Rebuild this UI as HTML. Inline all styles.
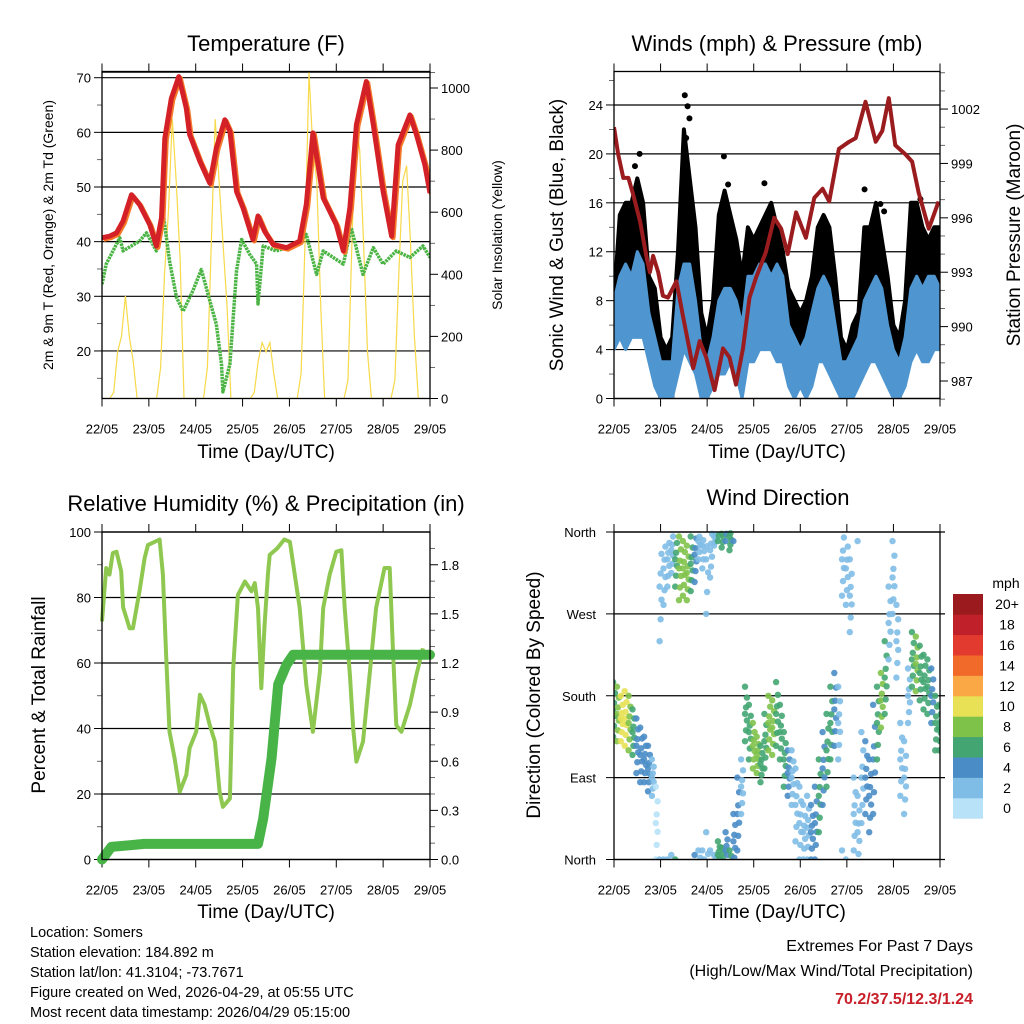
<!DOCTYPE html>
<html><head><meta charset="utf-8"><title>Weather station</title>
<style>
html,body{margin:0;padding:0;background:#fff;}
svg{display:block;font-family:"Liberation Sans",Arial,sans-serif;}
</style></head>
<body>
<svg id="chart" width="1024" height="1024" viewBox="0 0 1024 1024" xmlns="http://www.w3.org/2000/svg">
<rect x="0" y="0" width="1024" height="1024" fill="#fff"/>
<text x="266" y="51" font-size="22" text-anchor="middle">Temperature (F)</text>
<text x="777" y="51" font-size="22" text-anchor="middle">Winds (mph) &amp; Pressure (mb)</text>
<text x="266" y="511" font-size="22" text-anchor="middle">Relative Humidity (%) &amp; Precipitation (in)</text>
<text x="778" y="505" font-size="22" text-anchor="middle">Wind Direction</text>
<text x="266" y="458" font-size="19" text-anchor="middle">Time (Day/UTC)</text>
<text x="777" y="458" font-size="19" text-anchor="middle">Time (Day/UTC)</text>
<text x="266" y="918" font-size="19" text-anchor="middle">Time (Day/UTC)</text>
<text x="777" y="918" font-size="19" text-anchor="middle">Time (Day/UTC)</text>
<text transform="translate(53,235) rotate(-90)" font-size="14" text-anchor="middle">2m &amp; 9m T (Red, Orange) &amp; 2m Td (Green)</text>
<text transform="translate(502,235) rotate(-90)" font-size="14" text-anchor="middle">Solar Insolation (Yellow)</text>
<text transform="translate(563,235) rotate(-90)" font-size="19" text-anchor="middle">Sonic Wind &amp; Gust (Blue, Black)</text>
<text transform="translate(1020,235) rotate(-90)" font-size="19" text-anchor="middle">Station Pressure (Maroon)</text>
<text transform="translate(45,695) rotate(-90)" font-size="19" text-anchor="middle">Percent &amp; Total Rainfall</text>
<text transform="translate(540,695) rotate(-90)" font-size="19" text-anchor="middle">Direction (Colored By Speed)</text>
<g font-size="14.5">
<text x="30" y="937">Location: Somers</text>
<text x="30" y="957">Station elevation: 184.892 m</text>
<text x="30" y="977">Station lat/lon: 41.3104; -73.7671</text>
<text x="30" y="997">Figure created on Wed, 2026-04-29, at 05:55 UTC</text>
<text x="30" y="1017">Most recent data timestamp: 2026/04/29 05:15:00</text>
</g>
<g text-anchor="end">
<text x="973" y="951" font-size="16">Extremes For Past 7 Days</text>
<text x="973" y="976" font-size="16">(High/Low/Max Wind/Total Precipitation)</text>
<text x="973" y="1004" font-size="16" font-weight="bold" fill="#c8202a">70.2/37.5/12.3/1.24</text>
</g>
<g id="layer"></g>
</svg>
<script>
// ---------- data ----------
const dayLabels = ["22/05","23/05","24/05","25/05","26/05","27/05","28/05","29/05"];
const tempDays = [0,0.16,0.31,0.45,0.63,0.80,1.02,1.16,1.27,1.34,1.48,1.64,1.80,1.87,2.09,2.30,2.44,2.62,2.73,2.87,3.01,3.22,3.33,3.47,3.65,3.94,4.22,4.36,4.50,4.72,5.00,5.15,5.29,5.43,5.64,5.79,6.00,6.18,6.32,6.57,6.71,6.89,7.0];
const tempRed = [40.7,41.0,41.6,43.8,48.6,46.8,43.1,39.2,44.4,58.9,66.2,70.2,64.4,59.6,54.7,50.7,57.1,62.3,60.2,49.2,46.2,40.4,44.7,41.9,39.5,38.9,40.1,46.8,59.9,48.0,43.1,38.3,46.2,61.4,69.3,61.4,49.2,41.0,57.7,63.2,59.6,54.1,48.9];
const dewDays = [0,0.09,0.38,0.45,0.80,0.95,1.16,1.30,1.44,1.59,1.73,1.94,2.12,2.30,2.44,2.55,2.58,2.73,2.87,2.98,3.15,3.30,3.33,3.44,3.72,4.15,4.36,4.58,4.72,5.15,5.32,5.57,5.79,6.00,6.28,6.57,6.85,7.0];
const dewPoint = [32.2,35.9,40.7,38.3,40.1,41.6,38.3,45.6,36.5,29.8,27.3,31.0,34.9,29.2,24.9,17.6,12.5,17.6,34.6,40.4,37.7,35.9,28.6,39.2,38.3,39.5,41.3,34.0,38.3,35.9,42.5,34.0,38.9,35.9,38.3,37.1,39.2,37.1];
// solar, 2-hourly (hours 0,2,...,22) for each day
const solar = [
 0,0,0,20,150,200,330,200,120,0,0,0,
 0,0,0,100,400,600,900,700,450,0,0,0,
 0,0,0,100,500,900,700,500,300,0,0,0,
 0,0,0,20,120,180,150,180,80,0,0,0,
 0,0,0,80,500,1050,800,700,300,0,0,0,
 0,0,0,60,500,900,800,500,150,0,0,0,
 0,0,0,60,400,700,750,500,200,0,0,0];
const presDays = [0,0.09,0.20,0.31,0.41,0.56,0.70,0.77,0.84,0.95,1.05,1.16,1.34,1.48,1.70,1.84,1.98,2.16,2.34,2.48,2.62,2.77,2.91,3.05,3.26,3.44,3.59,3.73,3.91,4.12,4.30,4.48,4.62,4.83,5.05,5.19,5.40,5.62,5.76,5.90,6.04,6.26,6.40,6.54,6.76,6.97];
const pressure = [1001.0,999.5,998.2,998.2,997.3,995.8,993.8,993.0,993.9,993.0,991.7,991.6,992.5,990.6,987.7,989.2,988.3,986.5,988.8,988.3,986.8,988.8,991.6,992.7,994.1,996.0,995.4,994.0,996.3,994.9,997.1,997.6,996.9,999.8,1000.2,1000.4,1002.4,1000.2,1000.8,1002.6,1000.0,999.5,999.1,997.4,995.4,996.9];
// wind, 3-hourly
const windLow  = [4,5,4,5,5,5,3,1,0,0,0,2,4,3,2,0,0,1,2,2,3,2,0,3,3,4,4,4,3,3,1,0,1,0,1,3,3,2,1,0,0,0,1,2,3,3,2,1,0,0,1,3,4,3,3,4,4];
const windHigh = [8,10,11,10,12,11,7,5,3,3,3,9,11,11,8,4,3,5,8,9,9,8,6,10,10,11,11,10,11,10,6,5,4,5,7,9,10,9,6,3,3,4,5,8,9,10,9,6,4,3,5,9,10,9,10,10,9];
const gustHigh = [8,15,16,16,18,16,10,9,5,4,5,12,22,18,14,7,5,8,15,17,15,13,10,14,13,14,15,16,14,12,9,8,7,8,10,14,15,14,10,5,4,6,7,14,14,16,13,10,6,5,8,16,16,14,13,14,14];
const gustOutDays = [0.45,0.55,1.52,1.58,1.62,1.55,2.36,2.45,3.23,5.38,5.72,5.80,6.58,6.50];
const gustOutVals = [19,20,24.8,23.9,22.9,21.3,19.8,17.5,17.6,17.1,15.9,15.3,16.3,15.0];
// wind direction, 2-hourly
const dirVals = [165,160,155,155,150,140,125,115,110,100,90,40,300,320,330,340,330,320,320,315,325,335,350,345,330,340,355,5,358,10,355,20,50,80,160,140,125,115,105,130,150,145,160,140,110,95,90,60,40,30,35,30,40,70,100,120,150,165,150,330,320,290,50,30,90,90,70,110,150,175,200,260,310,240,110,90,180,220,215,205,195,190,180,150,145];
const dirSpread = [30,30,25,30,30,25,30,30,25,25,20,40,60,40,30,25,30,35,30,30,30,30,20,25,60,30,10,15,15,20,15,30,40,30,30,30,25,20,20,30,30,30,35,30,30,25,30,40,40,30,35,30,40,40,40,40,40,40,40,40,40,40,40,40,50,40,40,60,40,30,40,40,40,40,40,40,30,30,30,30,30,30,30,30,25];
const dirSpeed = [7,9,10,10,9,7,5,5,5,4,3,1,2,2,3,3,6,8,9,9,6,4,3,2,2,2,3,6,7,5,6,5,4,3,7,7,8,8,6,7,9,8,7,7,6,5,3,2,2,3,3,4,4,6,5,6,7,5,3,2,2,2,2,2,3,4,5,5,6,8,7,3,2,2,2,2,3,7,8,7,7,6,5,7,7];
// RH & rain
const rhDays = [0,0.09,0.16,0.23,0.31,0.41,0.45,0.59,0.66,0.80,0.91,0.98,1.23,1.30,1.37,1.44,1.55,1.66,1.80,1.87,2.01,2.09,2.19,2.30,2.41,2.51,2.58,2.73,2.80,2.90,3.05,3.19,3.26,3.33,3.40,3.47,3.54,3.58,3.74,3.89,4.01,4.22,4.36,4.50,4.65,4.72,4.86,5.00,5.11,5.18,5.29,5.36,5.43,5.57,5.71,5.85,6.03,6.14,6.21,6.28,6.39,6.57,6.71,6.85,6.96];
const rhVals = [72.7,89,87,93.6,94,88,77,70.6,70.6,81.9,92,96,97.7,87,61.9,39,30.9,20.7,25.8,34,39,50.3,47.2,41,36,20.7,16.1,18.6,58.4,80.8,84.9,81.9,84.4,76.8,52.3,71.7,87,93,95,97.7,97,76.8,53.3,39,57.4,76.8,87,94,94.4,76.8,56.4,40,29.9,36,56.4,76.8,89,89,63.5,41,39,47.2,56.4,64.5];
const rainDays = [0,0.2,0.9,3.33,3.44,3.62,3.76,3.94,4.08,7.0];
const rainVals = [0,0.077,0.095,0.095,0.25,0.62,1.07,1.19,1.25,1.25];
const speedColors = ["#b8e2f7","#7fbce6","#4a8dc6","#43a672","#7fc24a","#e8e155","#f9a845","#f26a2a","#e23a2e","#c0202a","#9b1a1d"];
const speedLabels = ["0","2","4","6","8","10","12","14","16","18","20+"];
const dirLabels = ["North","East","South","West","North"];

// ---------- helpers ----------
const NS="http://www.w3.org/2000/svg";
const layer=document.getElementById('layer');
function mk(tag,attrs,parent){const e=document.createElementNS(NS,tag);for(const k in attrs)e.setAttribute(k,attrs[k]);(parent||layer).appendChild(e);return e;}
function grp(name){const g=mk('g',{});return g;}
function txt(g,x,y,s,anchor,size){const t=mk('text',{x:x,y:y,'font-size':size||13,'text-anchor':anchor||'middle'},g);t.textContent=s;return t;}
function lin(g,x1,y1,x2,y2,w,c){return mk('line',{x1:x1,y1:y1,x2:x2,y2:y2,stroke:c||'#000','stroke-width':w||1},g);}
function pathD(xs,ys,fx,fy){let d='';for(let i=0;i<xs.length;i++){d+=(i?'L':'M')+fx(xs[i]).toFixed(1)+','+fy(ys[i]).toFixed(1);}return d;}

const P1={x0:102,x1:430,y0:71.5,y1:398.5};
const P2={x0:614,x1:940,y0:71.5,y1:398.5};
const P3={x0:102,x1:430,y0:532,y1:859.5};
const P4={x0:614,x1:940,y0:532,y1:859.5};
function xs(P){return d=>P.x0+(P.x1-P.x0)*d/7;}
const x1s=xs(P1),x2s=xs(P2),x3s=xs(P3),x4s=xs(P4);
const yTemp=f=>77.7+(70-f)*5.465;
const ySolar=s=>398.5-s*0.3105;
const yMph=m=>398.5-m*12.23;
const yPres=p=>381-(p-987)*18.13;
const yRH=r=>859.5-r*3.275;
const yRain=v=>859.5-v*163.75;
const yDir=d=>859.5-d*(327.5/360);

function xAxis(P,fx,name){
  const g=grp(name);
  dayLabels.forEach((l,i)=>{const x=fx(i);lin(g,x,P.y1,x,P.y1+8);lin(g,x,P.y0,x,P.y0-8);txt(g,x,P.y1+35,l,'middle',13);});
}
function yAxis(P,vals,fy,labels,side,minor,name,grid){
  const g=grp(name);
  vals.forEach((v,i)=>{const y=fy(v);
    if(side==='left'){lin(g,P.x0-8,y,P.x0,y);txt(g,P.x0-11,y+5,labels[i],'end',13);}
    else{lin(g,P.x1,y,P.x1+8,y);txt(g,P.x1+11,y+5,labels[i],'start',13);}
    if(grid)lin(g,P.x0,y,P.x1,y,1.2,'#000');
  });
  minor.forEach(v=>{const y=fy(v);if(side==='left')lin(g,P.x0-5,y,P.x0,y,0.8,'#444');else lin(g,P.x1,y,P.x1+5,y,0.8,'#444');});
}
function border(P,name){const r=mk('rect',{x:P.x0,y:P.y0,width:P.x1-P.x0,height:P.y1-P.y0,fill:'none',stroke:'#000','stroke-width':1.3});}
['c1','c2','c3','c4'].forEach((id,i)=>{const P=[P1,P2,P3,P4][i];const c=document.createElementNS(NS,'clipPath');c.setAttribute('id',id);const r=document.createElementNS(NS,'rect');r.setAttribute('x',P.x0);r.setAttribute('y',P.y0-3);r.setAttribute('width',P.x1-P.x0);r.setAttribute('height',P.y1-P.y0+3);c.appendChild(r);layer.appendChild(c);});

// ---------- Panel 1: temperature ----------
yAxis(P1,[20,30,40,50,60,70],yTemp,["20","30","40","50","60","70"],'left',[15,25,35,45,55,65],'temp-y-axis',true);
lin(layer,P1.x0,yTemp(71),P1.x1,yTemp(71),1,'#000');
yAxis(P1,[0,200,400,600,800,1000],ySolar,["0","200","400","600","800","1000"],'right',[100,300,500,700,900,1050],'solar-y-axis',false);
xAxis(P1,x1s,'temp-x-axis');
{
 const g=grp('temperature-series');g.setAttribute('clip-path','url(#c1)');
 const sx=[],sy=[];solar.forEach((v,i)=>{sx.push(i/12);sy.push(v);});
 const s=mk('path',{d:pathD(sx,sy,x1s,ySolar),fill:'none',stroke:'#f7d94a','stroke-width':1.2},g);
 
 const dw=mk('path',{d:pathD(dewDays,dewPoint,x1s,yTemp),fill:'none',stroke:'#4bb445','stroke-width':3.5,'stroke-dasharray':'2.5 0.8','stroke-linejoin':'round'},g);
 
 const o=mk('path',{d:pathD(tempDays,tempRed,x1s,yTemp),fill:'none',stroke:'#f47a2a','stroke-width':5,'stroke-linejoin':'round',transform:'translate(1.5,1.5)'},g);
 
 const r=mk('path',{d:pathD(tempDays,tempRed,x1s,yTemp),fill:'none',stroke:'#d42027','stroke-width':5,'stroke-linejoin':'round'},g);
 
}
border(P1,'temp-plot-frame');

// ---------- Panel 2: wind ----------
yAxis(P2,[0,4,8,12,16,20,24],yMph,["0","4","8","12","16","20","24"],'left',[2,6,10,14,18,22,26],'wind-y-axis',true);
yAxis(P2,[987,990,993,996,999,1002],yPres,["987","990","993","996","999","1002"],'right',[986,988,989,991,992,994,995,997,998,1000,1001,1003,1004],'pressure-y-axis',false);
xAxis(P2,x2s,'wind-x-axis');
{
 const g=grp('wind-series');g.setAttribute('clip-path','url(#c2)');
 const wd=windLow.map((v,i)=>i/8);
 let d='';wd.forEach((t,i)=>{d+=(i?'L':'M')+x2s(t).toFixed(1)+','+yMph(gustHigh[i]).toFixed(1);});
 for(let i=wd.length-1;i>=0;i--)d+='L'+x2s(wd[i]).toFixed(1)+','+yMph(Math.max(windLow[i],windHigh[i]-3)).toFixed(1);
 const gp=mk('path',{d:d+'Z',fill:'#000',stroke:'#000','stroke-width':4,'stroke-linejoin':'round'},g);
 
 gustOutDays.forEach((t,i)=>{const c=mk('circle',{cx:x2s(t),cy:yMph(gustOutVals[i]),r:3,fill:'#000'},g);
   });
 let b='';wd.forEach((t,i)=>{b+=(i?'L':'M')+x2s(t).toFixed(1)+','+yMph(windHigh[i]).toFixed(1);});
 for(let i=wd.length-1;i>=0;i--)b+='L'+x2s(wd[i]).toFixed(1)+','+yMph(windLow[i]).toFixed(1);
 const bp=mk('path',{d:b+'Z',fill:'#4f96d0',stroke:'#4f96d0','stroke-width':3,'stroke-linejoin':'round'},g);
 
 const p=mk('path',{d:pathD(presDays,pressure,x2s,yPres),fill:'none',stroke:'#9b1c1f','stroke-width':4,'stroke-linejoin':'round'},g);
 
}
border(P2,'wind-plot-frame');

// ---------- Panel 3: RH ----------
yAxis(P3,[0,20,40,60,80,100],yRH,["0","20","40","60","80","100"],'left',[10,30,50,70,90],'rh-y-axis',true);
yAxis(P3,[0,0.3,0.6,0.9,1.2,1.5,1.8],yRain,["0.0","0.3","0.6","0.9","1.2","1.5","1.8"],'right',[0.1,0.2,0.4,0.5,0.7,0.8,1.0,1.1,1.3,1.4,1.6,1.7,1.9],'rain-y-axis',false);
xAxis(P3,x3s,'rh-x-axis');
{
 const g=grp('rh-series');
 const r=mk('path',{d:pathD(rhDays,rhVals,x3s,yRH),fill:'none',stroke:'#8fc850','stroke-width':4,'stroke-linejoin':'round'},g);
 
 const p=mk('path',{d:pathD(rainDays,rainVals,x3s,yRain),fill:'none',stroke:'#48b448','stroke-width':10,'stroke-linejoin':'round','stroke-linecap':'round'},g);
 
}
border(P3,'rh-plot-frame');

// ---------- Panel 4: direction ----------
{
 const g=grp('dir-y-axis');
 [0,90,180,270,360].forEach((v,i)=>{const y=yDir(v);lin(g,P4.x0-8,y,P4.x0,y);lin(g,P4.x0,y,P4.x1+5,y,1.2);txt(g,P4.x0-18,y+5,dirLabels[i],'end',13);});
}
xAxis(P4,x4s,'dir-x-axis');
{
 const g=grp('direction-points');g.setAttribute('clip-path','url(#c4)');
 const offs=[-0.5,-0.3,-0.12,0,0.12,0.3,0.5];
 dirVals.forEach((dv,i)=>{
  const col=speedColors[Math.min(10,Math.floor(dirSpeed[i]/2))];
  offs.forEach((o,k)=>{
   let d=((dv+o*dirSpread[i]*2)%360+360)%360;
   const cx=x4s(i/12+(k%3-1)*0.02);
   const c=mk('circle',{cx:cx.toFixed(1),cy:yDir(d).toFixed(1),r:3.2,fill:col,'fill-opacity':0.9},g);
   
   
  });
 });
}
border(P4,'dir-plot-frame');

// ---------- colorbar ----------
{
 const g=grp('speed-colorbar');
 txt(g,1006,588,'mph','middle',14);
 const top=594,h=20.4;
 speedColors.forEach((c,i)=>{const y=top+(10-i)*h;
  const r=mk('rect',{x:953,y:y.toFixed(1),width:30,height:h+0.3,fill:c},g);
  
  txt(g,1007,y+h/2+5,speedLabels[i],'middle',14);});
}
</script>
</body></html>
